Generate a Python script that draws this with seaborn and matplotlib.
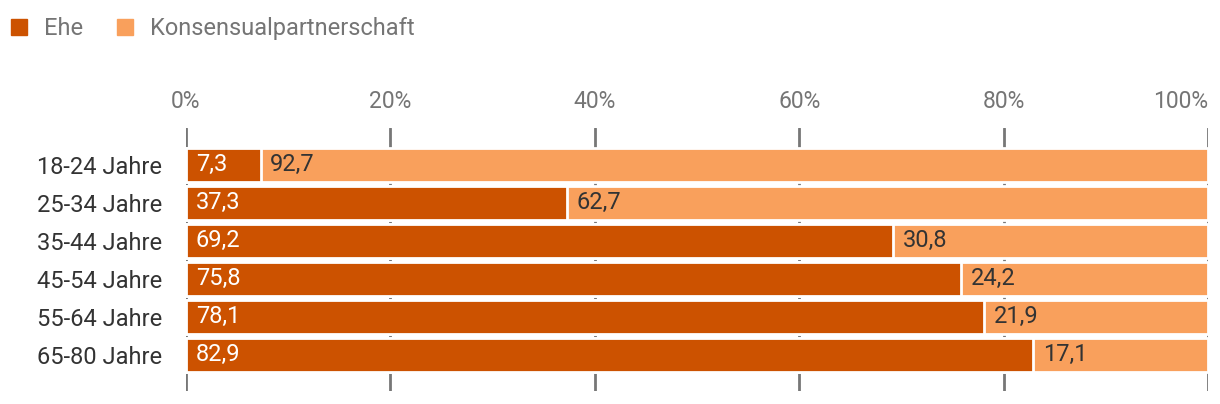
import matplotlib
matplotlib.use("Agg")
import matplotlib.pyplot as plt
import seaborn as sns
import pandas as pd
from matplotlib.patches import Patch

# Data
groups = ["18-24 Jahre", "25-34 Jahre", "35-44 Jahre", "45-54 Jahre", "55-64 Jahre", "65-80 Jahre"]
ehe = [7.3, 37.3, 69.2, 75.8, 78.1, 82.9]
konsens = [92.7, 62.7, 30.8, 24.2, 21.9, 17.1]
ticks = [0, 20, 40, 60, 80, 100]

c_ehe = "#CC5200"
c_kons = "#F9A05C"

sns.set_theme(style="white")
plt.rcParams["font.family"] = ["Roboto", "DejaVu Sans"]

df = pd.DataFrame({"group": groups, "ehe": ehe, "konsens": konsens})
df["total"] = df["ehe"] + df["konsens"]

fig = plt.figure(figsize=(12.2, 4.04), dpi=100)
ax = fig.add_axes([186 / 1220, 13 / 404, (1208 - 186) / 1220, (391 - 128) / 404])

for t in ticks:
    ax.axvline(t, color="#777777", lw=2, zorder=0)

# light bar = full stack, dark bar on top of it
sns.barplot(data=df, y="group", x="total", color=c_kons, width=0.9,
            edgecolor="white", linewidth=2, saturation=1, ax=ax, zorder=2)
sns.barplot(data=df, y="group", x="ehe", color=c_ehe, width=0.9,
            edgecolor="white", linewidth=2, saturation=1, ax=ax, zorder=3)

for i, (e, k) in enumerate(zip(ehe, konsens)):
    ax.annotate(f"{e:.1f}".replace(".", ","), xy=(0, i), xytext=(7, 0),
                textcoords="offset points", va="center", ha="left",
                color="white", fontsize=17, zorder=5)
    ax.annotate(f"{k:.1f}".replace(".", ","), xy=(e, i), xytext=(7, 0),
                textcoords="offset points", va="center", ha="left",
                color="#333333", fontsize=17, zorder=5)

ax.set_xlim(0, 100)
ax.set_ylim(5.95, -0.97)
ax.set_xticks(ticks)
ax.set_xticklabels([f"{t}%" for t in ticks])
ax.xaxis.tick_top()
ax.tick_params(axis="x", length=0, pad=11, labelsize=16.5, labelcolor="#757575")
ax.tick_params(axis="y", length=0, pad=17, labelsize=17, labelcolor="#333333")
ax.get_xticklabels()[-1].set_ha("right")
ax.set_xlabel("")
ax.set_ylabel("")
for s in ax.spines.values():
    s.set_visible(False)

handles = [Patch(color=c_ehe, label="Ehe"), Patch(color=c_kons, label="Konsensualpartnerschaft")]
leg = fig.legend(handles=handles, loc="upper left", bbox_to_anchor=(0.0, 0.983), ncol=2,
                 frameon=False, fontsize=17, handlelength=0.68, handleheight=0.68,
                 handletextpad=0.72, columnspacing=1.45, borderaxespad=0.1,
                 borderpad=0.35)
for t in leg.get_texts():
    t.set_color("#757575")

fig.savefig("out.png", dpi=100)
